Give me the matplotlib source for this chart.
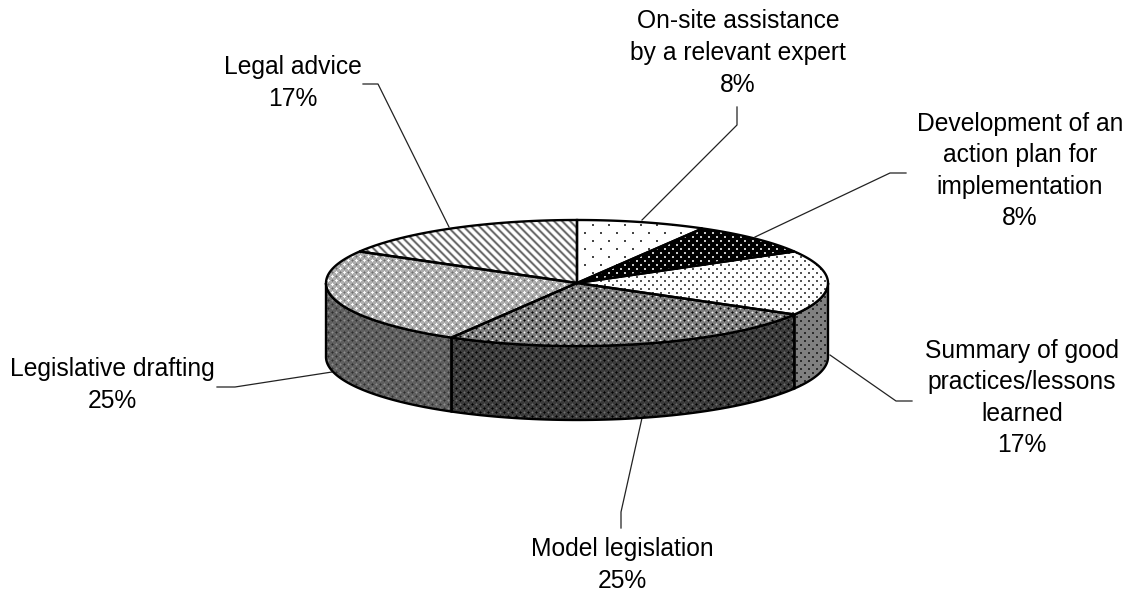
import numpy as np
import matplotlib
matplotlib.use("Agg")
import matplotlib.pyplot as plt
from matplotlib.patches import Polygon

plt.rcParams['font.family'] = ['Liberation Sans', 'DejaVu Sans']

categories = ["On-site assistance\nby a relevant expert",
              "Development of an\naction plan for\nimplementation",
              "Summary of good\npractices/lessons\nlearned",
              "Model legislation",
              "Legislative drafting",
              "Legal advice"]
shares = [8.33, 8.33, 16.67, 25, 25, 16.67]
pct_labels = ["8%", "8%", "17%", "25%", "25%", "17%"]


def dots_tile(period, bg, spot):
    t = np.full((period, period), bg, dtype=float)
    h = period // 2
    for r, c in [(0, 0), (h, h)]:
        t[r, c] = spot
        t[r, c + 1] = spot
        t[r + 1, c] = spot
        t[r + 1, c + 1] = spot
    return t


def diamond_tile(bright, bright2, mid, dark2, dark):
    t = np.zeros((8, 8))
    for r in range(8):
        for c in range(8):
            a = min(abs((r - r0 + 4) % 8 - 4) + abs((c - c0 + 4) % 8 - 4) for r0, c0 in [(0, 0), (4, 4)])
            b = min(abs((r - r0 + 4) % 8 - 4) + abs((c - c0 + 4) % 8 - 4) for r0, c0 in [(4, 0), (0, 4)])
            if a == 0:
                t[r, c] = bright
            elif a == 1:
                t[r, c] = bright2
            elif b == 0:
                t[r, c] = dark
            elif b == 1:
                t[r, c] = dark2
            else:
                t[r, c] = mid
    return t


def stripe_tile(ramp):
    t = np.zeros((8, 8))
    for r in range(8):
        for c in range(8):
            t[r, c] = ramp[(c - r) % 8]
    return t


top_tiles = [dots_tile(16, 255, 70),
             dots_tile(8, 0, 200),
             dots_tile(8, 255, 85),
             diamond_tile(240, 180, 125, 50, 0),
             diamond_tile(255, 245, 175, 135, 110),
             stripe_tile([255, 255, 255, 225, 140, 95, 140, 225])]
side_tiles = [dots_tile(16, 128, 55),
              dots_tile(8, 0, 95),
              dots_tile(8, 128, 45),
              diamond_tile(110, 85, 58, 20, 0),
              diamond_tile(140, 120, 95, 65, 45),
              stripe_tile([128, 128, 128, 100, 50, 35, 50, 100])]

W, H = 1134, 596
cx, cy, rx, ry, depth = 577, 283, 251, 63, 74

fig = plt.figure(figsize=(W / 100, H / 100), dpi=100)
ax = fig.add_axes([0, 0, 1, 1])
ax.set_xlim(0, W)
ax.set_ylim(H, 0)
ax.axis("off")


def fill_tile(poly, tile, z):
    patch = Polygon(poly, closed=True, fc="none", ec="none", transform=ax.transData)
    ax.add_patch(patch)
    rep_y = H // tile.shape[0] + 1
    rep_x = W // tile.shape[1] + 1
    im = ax.imshow(np.tile(tile, (rep_y, rep_x)), cmap="gray", vmin=0, vmax=255,
                   extent=[0, rep_x * tile.shape[1], rep_y * tile.shape[0], 0],
                   interpolation="bilinear", zorder=z, aspect="auto")
    im.set_clip_path(patch)
    ax.set_xlim(0, W)
    ax.set_ylim(H, 0)


def rim(a0, a1, dy=0, n=60):
    # angle is clockwise from the top of the ellipse
    t = np.radians(np.linspace(a0, a1, n))
    return np.column_stack([cx + rx * np.sin(t), cy - ry * np.cos(t) + dy])


edges = np.concatenate([[0], np.cumsum(shares)]) / np.sum(shares) * 360

# side wall, only the front half shows (90 to 270 deg clockwise)
for i in range(len(shares)):
    a0, a1 = max(edges[i], 90), min(edges[i + 1], 270)
    if a1 <= a0:
        continue
    poly = np.vstack([rim(a0, a1), rim(a1, a0, depth)])
    fill_tile(poly, side_tiles[i], 2)
    ax.add_patch(Polygon(poly, closed=True, fc="none", ec="black", lw=1.7, zorder=3))

# top faces
for i in range(len(shares)):
    poly = np.vstack([[[cx, cy]], rim(edges[i], edges[i + 1])])
    fill_tile(poly, top_tiles[i], 4)
    ax.add_patch(Polygon(poly, closed=True, fc="none", ec="black", lw=1.7, zorder=5))

# leader lines, from the label to the slice
leaders = [[(737, 107), (737, 125), (642, 220)],
           [(906, 173), (890, 173), (755, 237)],
           [(912, 401), (896, 401), (830, 355)],
           [(621, 528), (621, 512), (642, 418)],
           [(217, 387), (235, 387), (332, 372)],
           [(363, 84), (378, 84), (449, 227)]]
for pts in leaders:
    xs, ys = zip(*pts)
    ax.plot(xs, ys, color="#222222", lw=0.9, zorder=1)

label_xy = [(738, 53), (1020, 171), (1022, 398), (622, 565), (112, 385), (293, 83)]
for name, pct, (x, y) in zip(categories, pct_labels, label_xy):
    ax.text(x, y, name + "\n" + pct, ha="center", va="center", fontsize=17.7,
            linespacing=1.4, color="black")

fig.savefig("out.png", dpi=100)
